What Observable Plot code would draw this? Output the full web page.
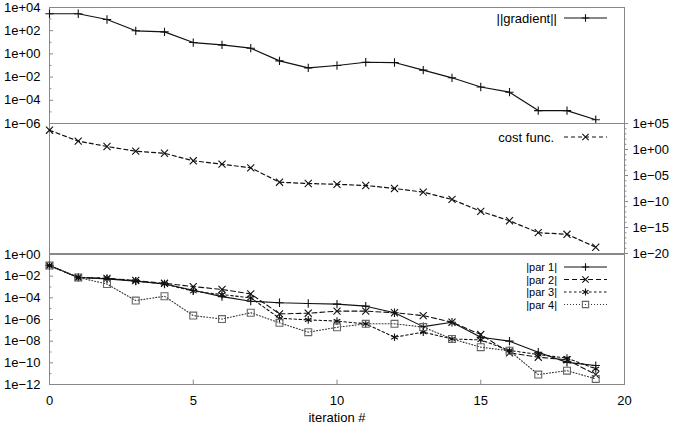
<!DOCTYPE html>
<html><head><meta charset="utf-8">
<script src="https://cdn.jsdelivr.net/npm/d3@7"></script>
<script src="https://cdn.jsdelivr.net/npm/@observablehq/plot@0.6"></script>
<style>
body{margin:0;background:#fff;}
#chart{position:relative;width:674px;height:427px;}
#chart svg{position:absolute;left:0;top:0;background:transparent;overflow:visible;}
</style></head><body><div id="chart"></div>
<script>
// ---- data ----
const iterations = [0,1,2,3,4,5,6,7,8,9,10,11,12,13,14,15,16,17,18,19];
const gradientNorm = [2900,2900,930,98,79,9.5,6.0,3.1,0.25,0.063,0.1,0.19,0.18,0.04,0.0087,0.0014,5e-4,1.3e-5,1.3e-5,2.1e-6];
const costFunc = [5100,40,3.8,0.47,0.19,6.8e-3,1.5e-3,3.0e-4,5.1e-7,2.9e-7,2.0e-7,1.2e-7,3.2e-8,6.3e-9,2.5e-10,1.3e-12,2.0e-14,1.0e-16,5.0e-17,1.6e-19];
const par1 = [0.095,7.6e-3,5.6e-3,3.5e-3,1.9e-3,5.0e-4,1.3e-4,4.9e-5,3.5e-5,3.0e-5,2.6e-5,1.7e-5,4.2e-6,2.2e-7,5.6e-7,2.3e-8,1.0e-8,9.5e-10,1.1e-10,5.6e-11];
const par2 = [0.095,7.6e-3,6.3e-3,4.0e-3,2.2e-3,1.1e-3,5.9e-4,2.3e-4,3.3e-6,3.8e-6,5.9e-6,5.9e-6,4.2e-6,2.3e-6,5.6e-7,4.1e-8,8.3e-10,3.3e-10,1.9e-10,8.3e-12];
const par3 = [0.095,7.6e-3,6.3e-3,3.5e-3,1.9e-3,4.1e-4,2.0e-4,1.0e-4,1.3e-6,9.3e-7,7.1e-7,4.0e-7,2.3e-8,6.8e-8,1.6e-8,1.3e-8,1.4e-9,5.9e-10,2.7e-10,2.8e-11];
const par4 = [0.095,7.6e-3,1.9e-3,5.6e-5,1.4e-4,2.3e-6,1.1e-6,4.2e-6,4.9e-7,6.8e-8,1.9e-7,4.0e-7,4.0e-7,2.0e-7,1.6e-8,2.8e-9,1.3e-9,8.3e-12,1.9e-11,3.3e-12];

const xTicks = [0,5,10,15,20];
const gradTicks = [1e4,1e2,1e0,1e-2,1e-4,1e-6];
const gradMinor = [1e3,1e1,1e-1,1e-3,1e-5];
const costTicks = [1e5,1e0,1e-5,1e-10,1e-15,1e-20];
const costMinor = [1e4,1e3,1e2,1e1,1e-1,1e-2,1e-3,1e-4,1e-6,1e-7,1e-8,1e-9,1e-11,1e-12,1e-13,1e-14,1e-16,1e-17,1e-18,1e-19];
const parTicks = [1e0,1e-2,1e-4,1e-6,1e-8,1e-10,1e-12];
const parMinor = [1e-1,1e-3,1e-5,1e-7,1e-9,1e-11];

const legendGrad = ["||gradient||"];
const legendCost = ["cost func."];
const legendPars = ["|par 1|","|par 2|","|par 3|","|par 4|"];
const xLabel = ["iteration #"];

// ---- layout ----
const W = 674, H = 427, ML = 49, MR = 50;
const FONT = "'Liberation Sans', Arial, Helvetica, sans-serif";
const fmt = d => { const e = Math.round(Math.log10(d)); return "1e" + (e < 0 ? "\u2212" : "+") + String(Math.abs(e)).padStart(2, "0"); };
const rows = iterations.map((it, i) => ({it, grad: gradientNorm[i], cost: costFunc[i], p1: par1[i], p2: par2[i], p3: par3[i], p4: par4[i]}));
const INK = "#111";
const TK = 0.14; // inward tick length in x units (~4px)

function panel(top, bottom, yDomain, marks) {
  return Plot.plot({
    width: W, height: H, marginLeft: ML, marginRight: MR, marginTop: top, marginBottom: H - bottom,
    x: {domain: [0, 20], axis: null},
    y: {type: "log", domain: yDomain, axis: null},
    style: {fontFamily: FONT, fontSize: "13px", color: "#000", background: "transparent", overflow: "visible"},
    marks
  });
}

const pTop = panel(7, 123, [1e-6, 1e4], [
  Plot.frame({stroke: "#888"}),
  Plot.ruleY(gradTicks, {y: d => d, x1: 0, x2: TK, stroke: "#888"}),
  Plot.ruleY(gradMinor, {y: d => d, x1: 0, x2: TK * 0.6, stroke: "#888"}),
  Plot.axisY({anchor: "left", ticks: gradTicks, tickSize: 0, tickPadding: 9, tickFormat: fmt, label: null}),
  Plot.line(rows, {x: "it", y: "grad", stroke: INK, strokeWidth: 1.2}),
  Plot.dot(rows, {x: "it", y: "grad", symbol: "plus", r: 2.8, stroke: INK, strokeWidth: 1.1})
]);

const pMid = panel(123, 253, [1e-20, 1e5], [
  Plot.frame({stroke: "#888"}),
  Plot.ruleY(costTicks, {y: d => d, x1: 20, x2: 20 + TK, stroke: "#888"}),
  Plot.ruleY(costMinor, {y: d => d, x1: 20, x2: 20 + TK * 0.6, stroke: "#888"}),
  Plot.axisY({anchor: "right", ticks: costTicks, tickSize: 0, tickPadding: 8, tickFormat: fmt, label: null}),
  Plot.line(rows, {x: "it", y: "cost", stroke: INK, strokeWidth: 1.2, strokeDasharray: "4,3"}),
  Plot.dot(rows, {x: "it", y: "cost", symbol: "times", r: 3.3, stroke: INK, strokeWidth: 1.1})
]);

const pBot = panel(254, 384, [1e-12, 1e0], [
  Plot.frame({stroke: "#888"}),
  Plot.ruleY(parTicks, {y: d => d, x1: 0, x2: TK, stroke: "#888"}),
  Plot.ruleY(parMinor, {y: d => d, x1: 0, x2: TK * 0.6, stroke: "#888"}),
  Plot.ruleX(xTicks, {x: d => d, y1: 1e-12, y2: 2.5e-12, stroke: "#888"}),
  Plot.axisY({anchor: "left", ticks: parTicks, tickSize: 0, tickPadding: 9, tickFormat: fmt, label: null}),
  Plot.axisX({anchor: "bottom", ticks: xTicks, tickSize: 0, tickPadding: 11, tickFormat: d => String(d), label: null}),
  Plot.text(xLabel, {text: d => d, frameAnchor: "bottom", dy: 37, fontSize: 13}),
  Plot.line(rows, {x: "it", y: "p1", stroke: INK, strokeWidth: 1.1}),
  Plot.line(rows, {x: "it", y: "p2", stroke: INK, strokeWidth: 1.1, strokeDasharray: "5,3"}),
  Plot.line(rows, {x: "it", y: "p3", stroke: INK, strokeWidth: 1.1, strokeDasharray: "2.5,2.5"}),
  Plot.line(rows, {x: "it", y: "p4", stroke: "#333", strokeWidth: 1.1, strokeDasharray: "1,2"}),
  Plot.dot(rows, {x: "it", y: "p1", symbol: "plus", r: 2.8, stroke: INK, strokeWidth: 1.1}),
  Plot.dot(rows, {x: "it", y: "p2", symbol: "times", r: 3.3, stroke: INK, strokeWidth: 1.1}),
  Plot.dot(rows, {x: "it", y: "p3", symbol: "asterisk", r: 3.6, stroke: INK, strokeWidth: 1.1}),
  Plot.dot(rows, {x: "it", y: "p4", symbol: "square", r: 3.9, stroke: "#666", fill: "none", strokeWidth: 1.1})
]);

const chart = document.getElementById("chart");
chart.append(pTop, pMid, pBot);

// ---- legends ----
function legendSample(g, y, dash, symbol, size, color, markColor) {
  g.append("line").attr("x1", 564).attr("x2", 607).attr("y1", y).attr("y2", y)
    .attr("stroke", color).attr("stroke-width", 1.1).attr("stroke-dasharray", dash);
  g.append("path").attr("transform", `translate(585.5,${y})`)
    .attr("d", d3.symbol(symbol, size)()).attr("fill", "none").attr("stroke", markColor).attr("stroke-width", 1.1);
}
function legendGroup(svg, size) {
  return d3.select(svg).append("g").attr("font-family", FONT).attr("font-size", size);
}
{
  const g = legendGroup(pTop, 13);
  g.append("text").attr("x", 557).attr("y", 18).attr("text-anchor", "end").attr("dominant-baseline", "central").attr("fill", "#000").text(legendGrad[0]);
  legendSample(g, 18, null, d3.symbolPlus, 20, INK, INK);
}
{
  const g = legendGroup(pMid, 13);
  g.append("text").attr("x", 554).attr("y", 137).attr("text-anchor", "end").attr("dominant-baseline", "central").attr("fill", "#000").text(legendCost[0]);
  legendSample(g, 137, "4,3", d3.symbolTimes, 28, INK, INK);
}
{
  const g = legendGroup(pBot, 11);
  const parStyles = [
    [null, d3.symbolPlus, 20, INK, INK],
    ["5,3", d3.symbolTimes, 28, INK, INK],
    ["2.5,2.5", d3.symbolAsterisk, 36, INK, INK],
    ["1,2", d3.symbolSquare, 40, "#333", "#666"]
  ];
  const rowY = [267, 279.5, 292, 304.5];
  legendPars.forEach((lab, i) => {
    g.append("text").attr("x", 557).attr("y", rowY[i]).attr("text-anchor", "end")
      .attr("dominant-baseline", "central").attr("fill", "#000").text(lab);
    const [dash, sym, sz, col, mcol] = parStyles[i];
    legendSample(g, rowY[i], dash, sym, sz, col, mcol);
  });
}
</script>
</body></html>
